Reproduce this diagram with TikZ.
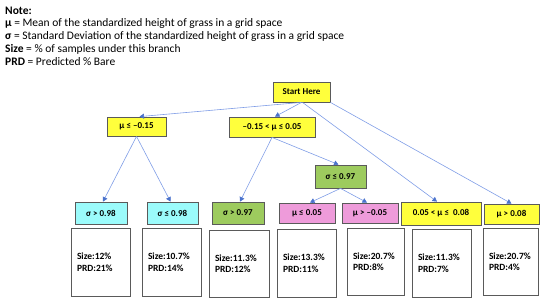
\documentclass[tikz,border=0pt]{standalone}
\usepackage{fontspec}
\setmainfont{Carlito}
\usetikzlibrary{arrows.meta}
\definecolor{ylw}{HTML}{FFFF3C}
\definecolor{cyn}{HTML}{9BFBFB}
\definecolor{grn}{HTML}{9DCB5E}
\definecolor{pnk}{HTML}{EE9BDA}
\definecolor{bord}{HTML}{5A5A5A}
\definecolor{lnk}{HTML}{7F9DE6}
\definecolor{tip}{HTML}{4A72CC}
\tikzset{
  cbox/.style={draw=bord, line width=0.8pt, inner sep=0pt, font=\fontsize{9}{10}\selectfont\bfseries},
  wbox/.style={draw=bord, line width=0.8pt, fill=white, inner xsep=6pt, inner ysep=0pt, align=left,
     font=\fontsize{9.5}{11.5}\selectfont\bfseries},
  conn/.style={draw=lnk, line width=0.6pt, -{Triangle[length=4.5pt,width=5pt,color=tip]}},
}
\begin{document}
\begin{tikzpicture}[x=1pt,y=-1pt]
\useasboundingbox (0,0) rectangle (550,300);
\node[anchor=north west, align=left, inner sep=0pt, font=\fontsize{11.5}{12.8}\selectfont] (note) at (5,6.5)
 {\textbf{Note:}\\
  \textbf{μ} = Mean of the standardized height of grass in a grid space\\
  \textbf{σ} = Standard Deviation of the standardized height of grass in a grid space\\
  \textbf{Size} = \% of samples under this branch\\
  \textbf{PRD} = Predicted \% Bare};

\node[cbox, fill=ylw, minimum width=57, minimum height=20] (start) at (301.5,92) {Start Here};
\node[cbox, fill=ylw, minimum width=59, minimum height=19] (m1) at (136.5,126.5) {μ ≤ –0.15};
\node[cbox, fill=ylw, minimum width=86, minimum height=20] (m2) at (272,127) {–0.15 < μ ≤ 0.05};
\node[cbox, fill=grn, minimum width=51, minimum height=23] (s97) at (340.5,176.5) {σ ≤ 0.97};

\node[cbox, fill=cyn, minimum width=52, minimum height=22] (a) at (101,213) {σ > 0.98};
\node[cbox, fill=cyn, minimum width=51, minimum height=22] (b) at (172.5,213) {σ ≤ 0.98};
\node[cbox, fill=grn, minimum width=52, minimum height=22] (c) at (238,213) {σ > 0.97};
\node[cbox, fill=pnk, minimum width=56, minimum height=20] (d) at (307,213) {μ ≤ 0.05};
\node[cbox, fill=pnk, minimum width=56, minimum height=20] (e) at (370,213) {μ > –0.05};
\node[cbox, fill=ylw, minimum width=80, minimum height=23] (f) at (441,213.5) {0.05 < μ ≤ ~0.08};
\node[cbox, fill=ylw, minimum width=55, minimum height=20] (g) at (511.5,214) {μ > 0.08};

\node[wbox, minimum width=59, minimum height=68, text width=47] (wa) at (100.5,262) {Size:12\%\\PRD:21\%};
\node[wbox, minimum width=59, minimum height=68, text width=47] (wb) at (171.5,262) {Size:10.7\%\\PRD:14\%};
\node[wbox, minimum width=60, minimum height=67, text width=48] (wc) at (239,263.5) {Size:11.3\%\\PRD:12\%};
\node[wbox, minimum width=59, minimum height=68, text width=47] (wd) at (306.5,263) {Size:13.3\%\\PRD:11\%};
\node[wbox, minimum width=57, minimum height=67, text width=45] (we) at (375.5,261.5) {Size:20.7\%\\PRD:8\%};
\node[wbox, minimum width=59, minimum height=68, text width=47] (wf) at (441.5,263) {Size:11.3\%\\PRD:7\%};
\node[wbox, minimum width=55, minimum height=67, text width=43] (wg) at (510.5,261.5) {Size:20.7\%\\PRD:4\%};

\draw[conn] (start.south) -- ([xshift=3pt]m1.north);
\draw[conn] (start.south) -- ([xshift=3pt]m2.north);
\draw[conn] ([xshift=1pt]start.south) -- ([xshift=-4pt]f.north);
\draw[conn] (start.south east) -- (g.north);
\draw[conn] (m2.south) -- ([xshift=-2pt]s97.north);
\draw[conn] (m2.south) -- ([xshift=2pt]c.north);
\draw[conn] (m1.south) -- ([xshift=2pt]a.north);
\draw[conn] (m1.south) -- ([xshift=-2pt]b.north);
\draw[conn] (s97.south) -- ([xshift=3pt]d.north);
\draw[conn] (s97.south) -- ([xshift=-3pt]e.north);
\end{tikzpicture}
\end{document}
